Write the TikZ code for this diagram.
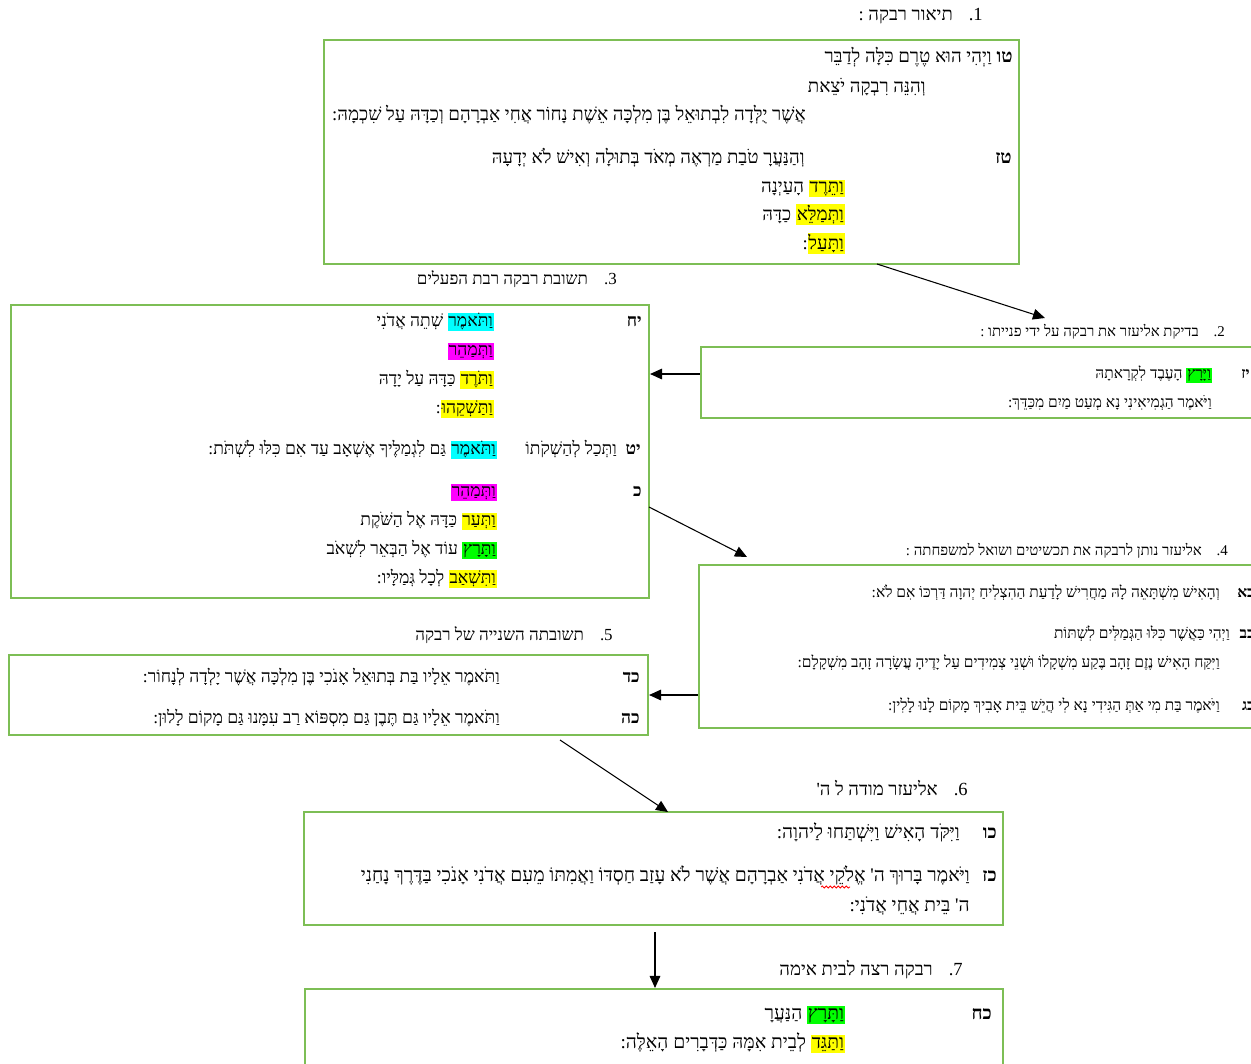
\documentclass[tikz,border=0pt]{standalone}
\usepackage{fontspec}
\usetikzlibrary{arrows.meta,fit,decorations.pathmorphing}
\TeXXeTstate=1
\newfontfamily\heb[Script=Hebrew]{Liberation Serif}
\definecolor{boxgreen}{RGB}{125,190,85}
\definecolor{hlyellow}{RGB}{255,255,0}
\definecolor{hlcyan}{RGB}{0,255,255}
\definecolor{hlmag}{RGB}{255,0,255}
\definecolor{hlgreen}{RGB}{0,255,0}
\newcommand\RL[1]{\beginR #1\endR}
\newcommand\HL[2]{{\setlength{\fboxsep}{0.6pt}\colorbox{#1}{\rule[-0.24em]{0pt}{0.86em}\beginR #2\endR}}}
\tikzset{
  gbox/.style={draw=boxgreen, line width=1.6pt, inner sep=0pt, fit={#1}},
  vA/.style={anchor=base east, inner sep=0pt, font=\heb\fontsize{14.0}{16}\selectfont},
  vD/.style={anchor=base east, inner sep=0pt, font=\heb\fontsize{14.4}{16}\selectfont},
  vB/.style={anchor=base east, inner sep=0pt, font=\heb\fontsize{13.1}{15}\selectfont},
  vC/.style={anchor=base east, inner sep=0pt, font=\heb\fontsize{11.6}{14}\selectfont},
  nA/.style={vA, font=\heb\bfseries\fontsize{14.0}{16}\selectfont},
  nD/.style={vD, font=\heb\bfseries\fontsize{14.0}{16}\selectfont},
  nB/.style={vB, font=\heb\bfseries\fontsize{13.1}{15}\selectfont},
  nC/.style={vC, font=\heb\bfseries\fontsize{11.6}{14}\selectfont},
  tA/.style={anchor=base east, inner sep=0pt, font=\heb\fontsize{13.9}{15}\selectfont},
  tB/.style={anchor=base east, inner sep=0pt, font=\heb\fontsize{12.7}{15}\selectfont},
  tC/.style={anchor=base east, inner sep=0pt, font=\heb\fontsize{11.2}{14}\selectfont},
  arr/.style={-{Triangle[length=9pt,width=8pt]}, line width=0.8pt, black}
}
\begin{document}
\begin{tikzpicture}[x=0.75pt,y=-0.75pt]
\clip (0,0) rectangle (1251,1063);
\fill[white] (0,0) rectangle (1251,1063);

% titles
\node[tA] (t1) at (983,21) {\RL{1.\hspace{12pt}תיאור רבקה :}};
\node[tC] (t2) at (1225,336) {\RL{2.\hspace{11pt}בדיקת אליעזר את רבקה על ידי פנייתו :}};
\node[tB] (t3) at (617,284) {\RL{3.\hspace{12pt}תשובת רבקה רבת הפעלים}};
\node[tC] (t4) at (1228,555) {\RL{4.\hspace{11pt}אליעזר נותן לרבקה את תכשיטים ושואל למשפחתה :}};
\node[tB] (t5) at (613,640) {\RL{5.\hspace{12pt}תשובתה השנייה של רבקה}};
\node[tA] (t6) at (968,795) {\RL{6.\hspace{12pt}אליעזר מודה ל ה'}};
\node[tA] (t7) at (963,975) {\RL{7.\hspace{12pt}רבקה רצה לבית אימה}};

% boxes
\node[gbox={(324,40)(1019,264)}] (b1) {};
\node[gbox={(701,347)(1262,418)}] (b2) {};
\node[gbox={(11,305)(649,598)}] (b3) {};
\node[gbox={(699,565)(1262,728)}] (b4) {};
\node[gbox={(9,655)(648,735)}] (b5) {};
\node[gbox={(304,812)(1003,925)}] (b6) {};
\node[gbox={(305,989)(1003,1078)}] (b7) {};

% box 1
\node[nA] (n15) at (1013,63) {\RL{טו}};
\node[vA] (v15a) at (992,63) {\RL{וַיְהִי הוּא טֶרֶם כִּלָּה לְדַבֵּר}};
\node[vA] (v15b) at (926,92) {\RL{וְהִנֵּה רִבְקָה יֹצֵאת}};
\node[vA] (v15c) at (806,120) {\RL{אֲשֶׁר יֻלְּדָה לִבְתוּאֵל בֶּן מִלְכָּה אֵשֶׁת נָחוֹר אֲחִי אַבְרָהָם וְכַדָּהּ עַל שִׁכְמָהּ:}};
\node[nA] (n16) at (1012,163) {\RL{טז}};
\node[vA] (v16a) at (805,163) {\RL{וְהַנַּעֲרָ טֹבַת מַרְאֶה מְאֹד בְּתוּלָה וְאִישׁ לֹא יְדָעָהּ}};
\node[vA] (v16b) at (845,192) {\RL{הָעַיְנָה}\ \HL{hlyellow}{וַתֵּרֶד}};
\node[vA] (v16c) at (845,220) {\RL{כַדָּהּ}\ \HL{hlyellow}{וַתְּמַלֵּא}};
\node[vA] (v16d) at (845,249) {:\HL{hlyellow}{וַתָּעַל}};

% box 2
\node[nC] (n17) at (1250,378) {\RL{יז}};
\node[vC] (v17a) at (1212,378) {\RL{הָעֶבֶד לִקְרָאתָהּ}\ \HL{hlgreen}{וַיָּרָץ}};
\node[vC] (v17b) at (1212,407) {\RL{וַיֹּאמֶר הַגְמִיאִינִי נָא מְעַט מַיִם מִכַּדֵּךְ:}};

% box 3
\node[nB] (n18) at (642,326) {\RL{יח}};
\node[vB] (v18a) at (494,326) {\RL{שְׁתֵה אֲדֹנִי}\ \HL{hlcyan}{וַתֹּאמֶר}};
\node[vB] (v18b) at (494,355) {\HL{hlmag}{וַתְּמַהֵר}};
\node[vB] (v18c) at (494,384) {\RL{כַּדָּהּ עַל יָדָהּ}\ \HL{hlyellow}{וַתֹּרֶד}};
\node[vB] (v18d) at (494,413) {:\HL{hlyellow}{וַתַּשְׁקֵהוּ}};
\node[nB] (n19) at (641,454) {\RL{יט}};
\node[vB] (v19a) at (617,454) {\RL{וַתְּכַל לְהַשְׁקֹתוֹ}};
\node[vB] (v19b) at (497,454) {\RL{גַּם לִגְמַלֶּיךָ אֶשְׁאָב עַד אִם כִּלּוּ לִשְׁתֹּת:}\ \HL{hlcyan}{וַתֹּאמֶר}};
\node[nB] (n20) at (642,496) {\RL{כ}};
\node[vB] (v20a) at (497,496) {\HL{hlmag}{וַתְּמַהֵר}};
\node[vB] (v20b) at (497,525) {\RL{כַּדָּהּ אֶל הַשֹּׁקֶת}\ \HL{hlyellow}{וַתְּעַר}};
\node[vB] (v20c) at (497,554) {\RL{עוֹד אֶל הַבְּאֵר לִשְׁאֹב}\ \HL{hlgreen}{וַתָּרָץ}};
\node[vB] (v20d) at (497,583) {\RL{לְכָל גְּמַלָּיו:}\ \HL{hlyellow}{וַתִּשְׁאַב}};

% box 4
\node[nC] (n21) at (1255,597) {\RL{כא}};
\node[vC] (v21) at (1220,597) {\RL{וְהָאִישׁ מִשְׁתָּאֵה לָהּ מַחֲרִישׁ לָדַעַת הַהִצְלִיחַ יְהוָה דַּרְכּוֹ אִם לֹא:}};
\node[nC] (n22) at (1255,638) {\RL{כב}};
\node[vC] (v22a) at (1230,638) {\RL{וַיְהִי כַּאֲשֶׁר כִּלּוּ הַגְּמַלִּים לִשְׁתּוֹת}};
\node[vC] (v22b) at (1220,667) {\RL{וַיִּקַּח הָאִישׁ נֶזֶם זָהָב בֶּקַע מִשְׁקָלוֹ וּשְׁנֵי צְמִידִים עַל יָדֶיהָ עֲשָׂרָה זָהָב מִשְׁקָלָם:}};
\node[nC] (n23) at (1255,710) {\RL{כג}};
\node[vC] (v23) at (1220,710) {\RL{וַיֹּאמֶר בַּת מִי אַתְּ הַגִּידִי נָא לִי הֲיֵשׁ בֵּית אָבִיךְ מָקוֹם לָנוּ לָלִין:}};

% box 5
\node[nB] (n24) at (640,682) {\RL{כד}};
\node[vB] (v24) at (500,682) {\RL{וַתֹּאמֶר אֵלָיו בַּת בְּתוּאֵל אָנֹכִי בֶּן מִלְכָּה אֲשֶׁר יָלְדָה לְנָחוֹר:}};
\node[nB] (n25) at (640,723) {\RL{כה}};
\node[vB] (v25) at (500,723) {\RL{וַתֹּאמֶר אֵלָיו גַּם תֶּבֶן גַּם מִסְפּוֹא רַב עִמָּנוּ גַּם מָקוֹם לָלוּן:}};

% box 6
\node[nD] (n26) at (997,838) {\RL{כו}};
\node[vD] (v26) at (960,838) {\RL{וַיִּקֹּד הָאִישׁ וַיִּשְׁתַּחוּ לַיהוָה:}};
\node[nD] (n27) at (997,881) {\RL{כז}};
\node[vD] (v27a) at (970,881) {\RL{וַיֹּאמֶר בָּרוּךְ ה' אֱלֹקֵי אֲדֹנִי אַבְרָהָם אֲשֶׁר לֹא עָזַב חַסְדּוֹ וַאֲמִתּוֹ מֵעִם אֲדֹנִי אָנֹכִי בַּדֶּרֶךְ נָחַנִי}};
\node[vD] (v27b) at (970,911) {\RL{ה' בֵּית אֲחֵי אֲדֹנִי:}};
\coordinate (sp1) at (821,887);
\coordinate (sp2) at (850,887);
\draw[red, line width=0.6pt, decorate, decoration={snake, amplitude=0.8pt, segment length=3pt}] (sp1) -- (sp2);

% box 7
\node[nD] (n28) at (992,1019) {\RL{כח}};
\node[vD] (v28a) at (845,1019) {\RL{הַנַּעֲרָ}\ \HL{hlgreen}{וַתָּרָץ}};
\node[vD] (v28b) at (845,1048) {\RL{לְבֵית אִמָּהּ כַּדְּבָרִים הָאֵלֶּה:}\ \HL{hlyellow}{וַתַּגֵּד}};

% connectors
\coordinate (a1s) at (877,264);
\coordinate (a1e) at (1045,318);
\draw[arr] (a1s) -- (a1e);
\coordinate (y374) at (0,374);
\draw[arr] (b2.west |- y374) -- (b3.east |- y374);
\coordinate (a3s) at (649,507);
\coordinate (a3e) at (747,557);
\draw[arr] (a3s) -- (a3e);
\draw[arr] (b4.west |- b5.east) -- (b5.east);
\coordinate (a5s) at (560,740);
\coordinate (a5e) at (668,812);
\draw[arr] (a5s) -- (a5e);
\coordinate (a6s) at (655,932);
\draw[arr] (a6s) -- (b7.north -| a6s);
\end{tikzpicture}
\end{document}
